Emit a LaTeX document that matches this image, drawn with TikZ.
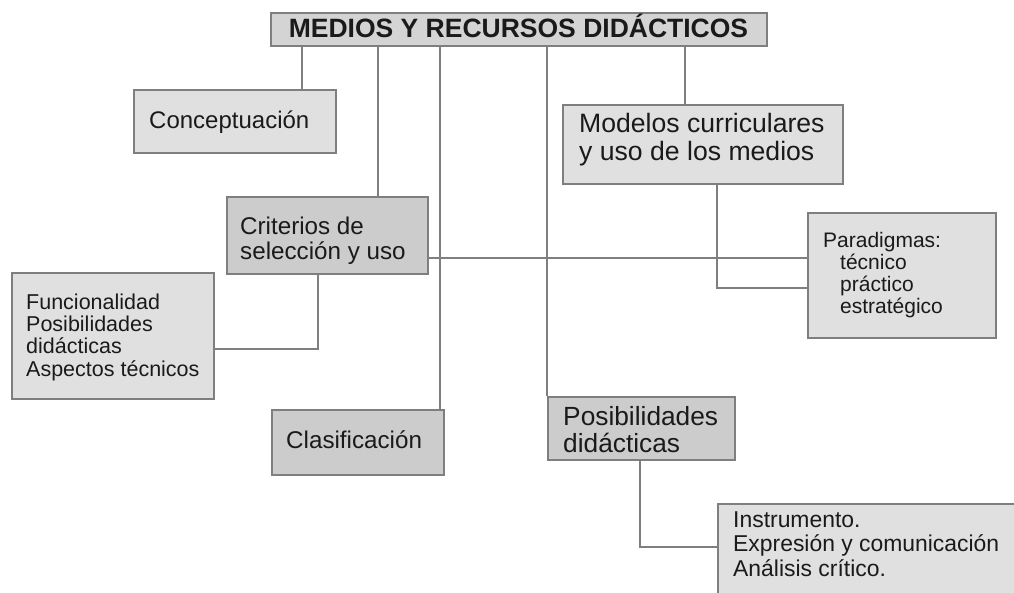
\documentclass[tikz,border=0pt]{standalone}
\usepackage{fontspec}
\setmainfont{Liberation Sans}
\definecolor{lightbox}{HTML}{E0E0E0}
\definecolor{darkbox}{HTML}{CCCCCC}
\definecolor{titlebox}{HTML}{D4D4D4}
\definecolor{edge}{HTML}{7F7F7F}
\definecolor{ink}{HTML}{1A1A1A}
\newcommand{\txt}[3]{\fontsize{#1}{#2}\selectfont\begin{tabular}[t]{@{}l@{}}#3\end{tabular}}
\begin{document}
\begin{tikzpicture}[x=1pt,y=-1pt,
  boxbase/.style={draw=edge, line width=1.6pt, inner sep=0pt, anchor=north west, rectangle},
  lbox/.style={boxbase, fill=lightbox},
  dbox/.style={boxbase, fill=darkbox},
  lbl/.style={anchor=base west, inner sep=0pt, text=ink},
  link/.style={draw=edge, line width=1.6pt}]
\clip (0,0) rectangle (1014,592);
\fill[white] (0,0) rectangle (1014,592);

% boxes
\node[boxbase, fill=titlebox, minimum width=496pt, minimum height=33pt] (title) at (270,12) {};
\node[lbl, anchor=base] (titletxt) at (518.5,37) {\fontsize{26.5}{28}\selectfont\bfseries MEDIOS Y RECURSOS DIDÁCTICOS};
\node[lbox, minimum width=202pt, minimum height=63pt] (concept) at (133,89) {};
\node[dbox, minimum width=201pt, minimum height=77pt] (crit) at (226,196) {};
\node[lbox, minimum width=280pt, minimum height=79pt] (model) at (562,104) {};
\node[lbox, minimum width=188pt, minimum height=125pt] (parad) at (807,212) {};
\node[lbox, minimum width=202pt, minimum height=126pt] (func) at (11,272) {};
\node[dbox, minimum width=172pt, minimum height=65pt] (clasif) at (271,409) {};
\node[dbox, minimum width=187pt, minimum height=63pt] (posib) at (547,396) {};
\node[lbox, minimum width=330pt, minimum height=120pt] (instr) at (717,503) {};

% texts
\node[lbl] (t1) at (149,128) {\txt{24}{25}{Conceptuación}};
\node[lbl] (t2) at (240,234) {\txt{24.2}{25}{Criterios de\\selección y uso}};
\node[lbl] (t3) at (579,132) {\txt{26.6}{28}{Modelos curriculares\\y uso de los medios}};
\node[lbl] (t4) at (823,247) {\txt{21}{22.3}{Paradigmas:\\\hspace*{17pt}técnico\\\hspace*{17pt}práctico\\\hspace*{17pt}estratégico}};
\node[lbl] (t5) at (26,309) {\txt{21.5}{22.3}{Funcionalidad\\Posibilidades\\didácticas\\Aspectos técnicos}};
\node[lbl] (t6) at (286,448) {\txt{24.2}{25}{Clasificación}};
\node[lbl] (t7) at (563,425) {\txt{26.3}{27}{Posibilidades\\didácticas}};
\node[lbl] (t8) at (733,527) {\txt{22.9}{24.5}{Instrumento.\\Expresión y comunicación\\Análisis crítico.}};

% connectors from the title
\draw[link] (title.south -| 302,0) -- (concept.north -| 302,0);
\draw[link] (title.south -| 378,0) -- (crit.north -| 378,0);
\draw[link] (title.south -| 440,0) -- (clasif.north -| 440,0);
\draw[link] (title.south -| 547,0) -- (posib.north west);
\draw[link] (title.south -| 685,0) -- (model.north -| 685,0);

% other connectors
\draw[link] (crit.east |- 0,258) -- (parad.west |- 0,258);
\draw[link] (model.south -| 717,0) -- (717,288) -- (parad.west |- 0,288);
\draw[link] (crit.south -| 318,0) -- (318,349) -- (func.east |- 0,349);
\draw[link] (posib.south -| 640,0) -- (640,547) -- (instr.west |- 0,547);
\end{tikzpicture}
\end{document}
